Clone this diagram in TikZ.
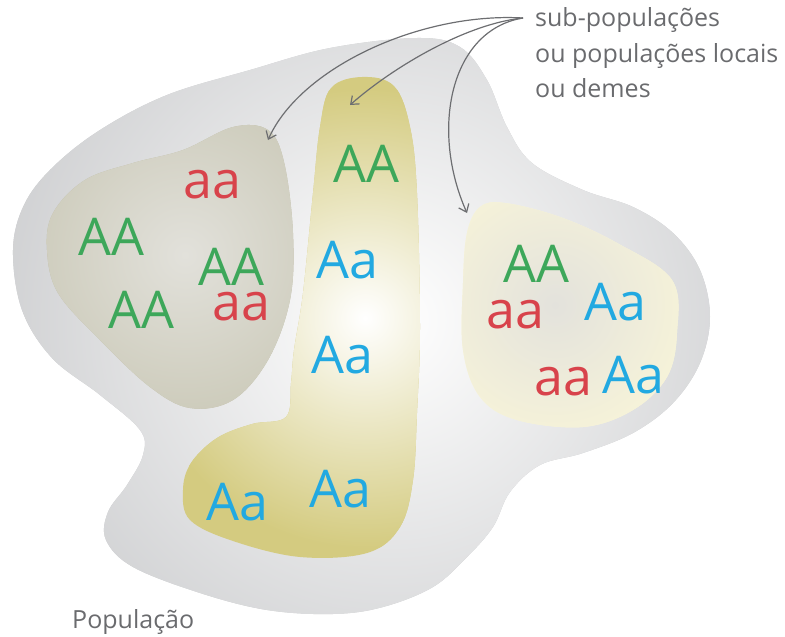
\documentclass[tikz,border=0pt]{standalone}
\usepackage{fontspec}
\setmainfont{Open Sans}
\usetikzlibrary{arrows.meta}
\definecolor{ggreen}{HTML}{3DA75A}
\definecolor{gred}{HTML}{D8434B}
\definecolor{gblue}{HTML}{22A9E1}
\definecolor{outergray}{HTML}{CBCCCE}
\definecolor{khaki}{HTML}{BDBBA3}
\definecolor{khakilight}{HTML}{E2E1DB}
\definecolor{olive}{HTML}{D4CB80}
\definecolor{paleyellow}{HTML}{FBF7D8}
\definecolor{palecenter}{HTML}{E3E2DC}
\definecolor{arrowgray}{HTML}{6D6E71}
\definecolor{labelgray}{HTML}{6A6B6E}
\begin{document}
\begin{tikzpicture}[x=1pt,y=-1pt,
  geno/.style={anchor=base west, inner sep=0pt, font=\fontsize{52}{52}\selectfont},
  homodom/.style={geno, text=ggreen},
  homorec/.style={geno, text=gred},
  hetero/.style={geno, text=gblue},
  caption/.style={anchor=base west, inner sep=0pt, text=labelgray, font=\fontsize{25}{30}\selectfont},
  conn/.style={draw=arrowgray, line width=1.2pt, -{Straight Barb[length=7pt,width=11pt]}},
  blob/.style={smooth cycle, tension=0.6}]
\useasboundingbox (0,0) rectangle (785,637);

% outer population
\begin{scope}
\clip plot[blob] coordinates {(13,250) (24,205) (52,168) (100,130) (167,95) (250,70) (330,48) (417,38) (460,47) (487,80) (507,127) (532,163) (583,190) (633,207) (673,233) (700,270) (710,317) (700,363) (673,403) (633,433) (583,453) (540,465) (510,492) (493,527) (467,557) (433,587) (383,607) (333,614) (267,610) (200,593) (133,567) (106,540) (108,512) (127,485) (143,455) (140,430) (100,395) (52,358) (22,310)};
\fill[outergray] (0,0) rectangle (785,637);
\shade[inner color=white, outer color=outergray] (390,320) circle (440);
\end{scope}

% left deme
\begin{scope}
\clip plot[blob] coordinates {(268,130) (284,162) (293,233) (290,300) (268,360) (233,400) (190,408) (150,387) (100,340) (58,293) (47,250) (53,213) (85,180) (133,163) (183,150) (233,127)};
\fill[khaki] (0,0) rectangle (785,637);
\shade[inner color=khakilight, outer color=khaki] (185,255) circle (280);
\end{scope}

% middle deme
\begin{scope}
\clip plot[blob] coordinates {(362,77) (394,86) (410,127) (417,193) (420,327) (417,413) (413,480) (400,527) (367,553) (300,557) (233,541) (190,520) (183,490) (191,463) (217,438) (252,424) (286,417) (291,383) (294,350) (303,293) (313,193) (320,127) (331,88)};
\fill[olive] (0,0) rectangle (785,637);
\shade[inner color=white, outer color=olive] (365,318) circle (230);
\end{scope}

% right deme
\begin{scope}
\clip plot[blob] coordinates {(480,207) (505,203) (560,217) (617,243) (672,280) (677,333) (667,377) (633,410) (583,427) (517,420) (480,397) (463,350) (463,283) (467,233)};
\fill[paleyellow] (0,0) rectangle (785,637);
\shade[inner color=palecenter, outer color=paleyellow] (555,305) circle (170);
\end{scope}

% genotypes: left deme
\node[homorec] (g1) at (183,198) {aa};
\node[homodom] (g2) at (78,255) {AA};
\node[homodom] (g3) at (198,285) {AA};
\node[homodom] (g4) at (108,328) {AA};
\node[homorec] (g5) at (212,320) {aa};
% middle deme
\node[homodom] (g6) at (333,182) {AA};
\node[hetero] (g7) at (316,278) {Aa};
\node[hetero] (g8) at (311,373) {Aa};
\node[hetero] (g9) at (206,520) {Aa};
\node[hetero] (g10) at (309,507) {Aa};
% right deme
\node[homodom] (g11) at (503,282) {AA};
\node[homorec] (g12) at (486,328) {aa};
\node[hetero] (g13) at (584,320) {Aa};
\node[homorec] (g14) at (534,395) {aa};
\node[hetero] (g15) at (602,393) {Aa};

% captions
\node[caption] (sub1) at (535,27) {sub-populações};
\node[caption] (sub2) at (535,62) {ou populações locais};
\node[caption] (sub3) at (535,97) {ou demes};
\node[caption] (pop) at (72,628) {População};

% arrows
\coordinate (src) at (523,18);
\coordinate (t1) at (268,140);
\coordinate (t2) at (350,105);
\coordinate (t3) at (467,213);
\draw[conn] (src) .. controls (420,12) and (300,68) .. (t1);
\draw[conn] (src) .. controls (465,24) and (392,68) .. (t2);
\draw[conn] (src) .. controls (450,30) and (430,130) .. (t3);
\end{tikzpicture}
\end{document}
